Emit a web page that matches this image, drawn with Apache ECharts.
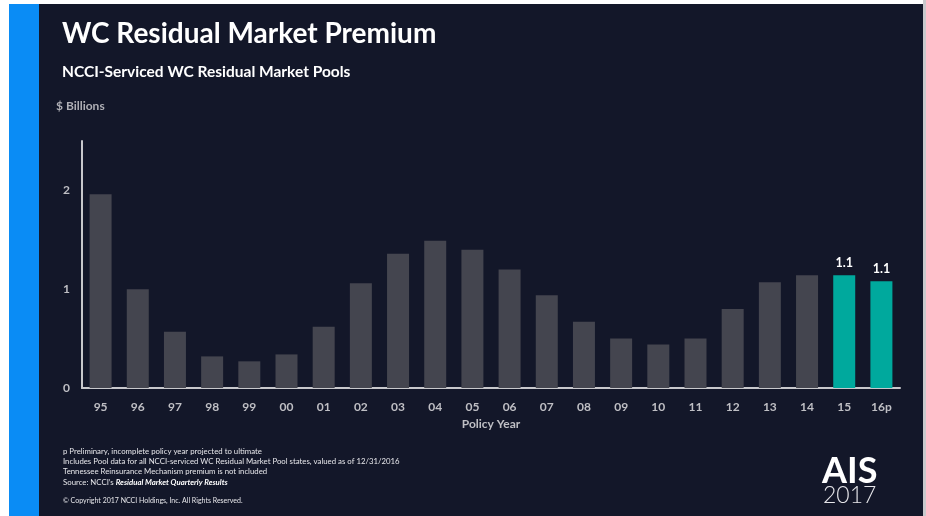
<!DOCTYPE html>
<html>
<head>
<meta charset="utf-8">
<style>
  html, body { margin: 0; padding: 0; background: #ffffff; }
  #chart { width: 926px; height: 516px; }
</style>
<script src="https://cdn.jsdelivr.net/npm/echarts@6/dist/echarts.min.js"></script>
</head>
<body>
<div id="chart"></div>
<script>
// Policy years and written premium ($ billions)
const policyYears = ['95','96','97','98','99','00','01','02','03','04','05','06','07','08','09','10','11','12','13','14','15','16p'];
const premium = [1.96, 1.00, 0.57, 0.32, 0.27, 0.34, 0.62, 1.06, 1.36, 1.49, 1.40, 1.20, 0.94, 0.67, 0.50, 0.44, 0.50, 0.80, 1.07, 1.14, 1.14, 1.08];
// Years whose value is called out above the bar
const highlightYears = ['15', '16p'];
const yTicks = [0, 1, 2];

const footnotes = [
  'p Preliminary, incomplete policy year projected to ultimate',
  'Includes Pool data for all NCCI-serviced WC Residual Market Pool states, valued as of 12/31/2016',
  'Tennessee Reinsurance Mechanism premium is not included'
];

const NAVY = '#131729';
const GREY_BAR = '#44454f';
const TEAL = '#00a99d';
const LABEL = '#bfbfc4';
const FONT = 'Lato, "Open Sans", sans-serif';

const chart = echarts.init(document.getElementById('chart'));

const barData = premium.map((v, i) => {
  const hi = highlightYears.includes(policyYears[i]);
  return {
    value: v,
    itemStyle: { color: hi ? TEAL : GREY_BAR },
    label: hi ? {
      show: true, position: 'top', distance: 6,
      color: '#ffffff', fontWeight: 'bold', fontSize: 12.5, fontFamily: FONT,
      formatter: p => p.value.toFixed(1)
    } : { show: false }
  };
});

const footText = footnotes.map((t, i) => ({
  type: 'text', left: 63, top: 447 + i * 10.4,
  style: { text: t, fill: '#e6e6ea', font: '7.8px ' + FONT }
}));

chart.setOption({
  backgroundColor: 'transparent',
  animation: false,
  graphic: [
    { type: 'rect', shape: { x: 9, y: 4, width: 914, height: 512 }, style: { fill: NAVY }, z: -10 },
    { type: 'rect', shape: { x: 9, y: 4, width: 30, height: 512 }, style: { fill: '#0a8cf5' }, z: -9 },
    { type: 'rect', shape: { x: 923, y: 0, width: 3, height: 516 }, style: { fill: '#c9c9cc' }, z: -9 },
    { type: 'text', left: 62, top: 20, style: { text: 'WC Residual Market Premium', fill: '#ffffff', font: 'bold 28px ' + FONT } },
    { type: 'text', left: 62, top: 64, style: { text: 'NCCI-Serviced WC Residual Market Pools', fill: '#ffffff', font: 'bold 15.5px ' + FONT } },
    { type: 'text', left: 56, top: 100, style: { text: '$ Billions', fill: '#b0b0b6', font: 'bold 12px ' + FONT } },
    ...footText,
    { type: 'text', left: 63, top: 478, style: {
        text: "{n|Source: NCCI’s }{i|Residual Market Quarterly Results}",
        rich: {
          n: { fill: '#e6e6ea', font: '7.8px ' + FONT },
          i: { fill: '#ffffff', font: 'italic bold 7.8px ' + FONT }
        } } },
    { type: 'text', left: 63, top: 497, style: { text: '© Copyright 2017 NCCI Holdings, Inc. All Rights Reserved.', fill: '#e6e6ea', font: '7px ' + FONT } },
    { type: 'text', left: 822, top: 453, style: { text: 'AIS', fill: '#ffffff', font: 'bold 36px ' + FONT } },
    { type: 'text', left: 823, top: 484, style: { text: '2017', fill: '#e6e6ea', font: '300 23px ' + FONT } }
  ],
  grid: { left: 82, right: 26, top: 141, bottom: 128 },
  xAxis: {
    type: 'category',
    data: policyYears,
    name: 'Policy Year',
    nameLocation: 'middle',
    nameGap: 30,
    nameTextStyle: { color: LABEL, fontWeight: 'bold', fontSize: 12, fontFamily: FONT },
    axisLine: { lineStyle: { color: '#c8c8cc', width: 2 } },
    axisTick: { show: false },
    axisLabel: { color: LABEL, fontWeight: 'bold', fontSize: 12, fontFamily: FONT, margin: 13 }
  },
  yAxis: {
    type: 'value',
    min: 0, max: 2.5, interval: 1,
    axisLine: { show: true, lineStyle: { color: '#c8c8cc', width: 2 } },
    axisTick: { show: false },
    splitLine: { show: false },
    axisLabel: {
      color: LABEL, fontWeight: 'bold', fontSize: 12, fontFamily: FONT, margin: 12,
      formatter: v => yTicks.includes(v) ? String(v) : ''
    }
  },
  series: [{
    type: 'bar',
    data: barData,
    barWidth: 22
  }]
});
</script>
</body>
</html>
